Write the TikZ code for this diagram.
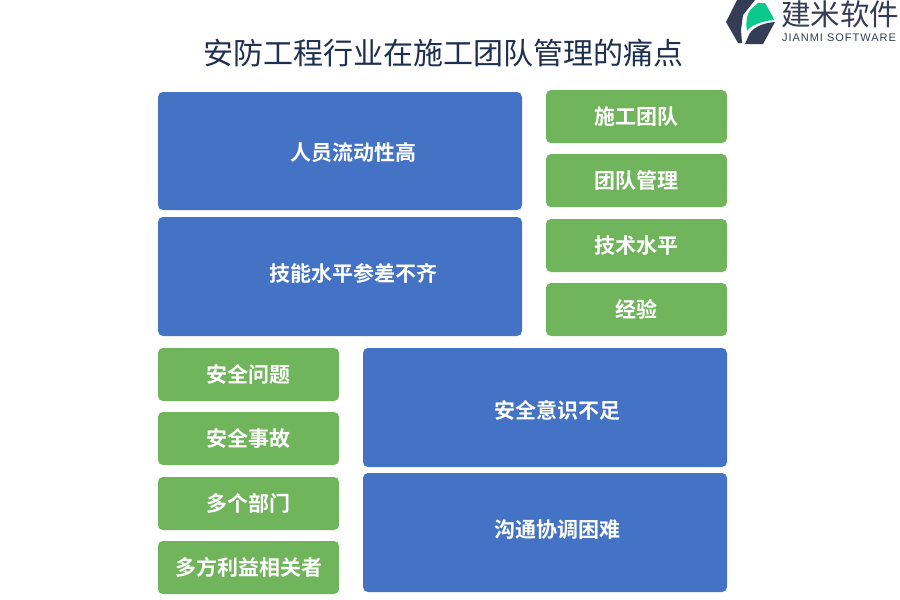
\documentclass[tikz,border=0pt]{standalone}
\usepackage{fontspec}
\setmainfont{Liberation Sans}
\newfontfamily\cjk{Noto Sans CJK SC}
\newfontfamily\cjkb{Noto Sans CJK SC}[BoldFont={Noto Sans CJK SC Bold}]
\definecolor{bluebox}{HTML}{4472C4}
\definecolor{greenbox}{HTML}{70B55C}
\definecolor{navy}{HTML}{1F2F4F}
\definecolor{logodark}{HTML}{343C56}
\definecolor{logogreen}{HTML}{0BC98A}
\tikzset{
  x=1pt,y=-1pt,
  boxbase/.style={draw=none,rounded corners=5pt,text=white,inner sep=0pt,font=\cjkb\bfseries\fontsize{21}{24}\selectfont},
  labeltext/.style={text=white,inner sep=0pt,font=\cjkb\bfseries\fontsize{21}{24}\selectfont},
  bluecard/.style={boxbase,fill=bluebox,minimum width=364pt,minimum height=119pt},
  greencard/.style={boxbase,fill=greenbox,minimum width=181pt,minimum height=53pt},
}
\begin{document}
\begin{tikzpicture}
\useasboundingbox (0,0) rectangle (900,600);
\fill[white] (0,0) rectangle (900,600);
\node[font=\cjk\fontsize{30}{34}\selectfont,text=navy,inner sep=0pt] (title) at (443.5,53) {安防工程行业在施工团队管理的痛点};
% blue
\node[bluecard,minimum height=118pt] (a) at (340,151) {};
\node[bluecard] (b) at (340,276.5) {};
\node[bluecard] (c) at (545,407.5) {};
\node[bluecard] (d) at (545,532.5) {};
\node[labeltext] (at) at (353,153) {人员流动性高};
\node[labeltext] (bt) at (353,273) {技能水平参差不齐};
\node[labeltext] (ct) at (557.5,410) {安全意识不足};
\node[labeltext] (dt) at (557,530) {沟通协调困难};
% green
\node[greencard] (g1) at (636.5,116.5) {施工团队};
\node[greencard] (g2) at (636.5,180.5) {团队管理};
\node[greencard] (g3) at (636.5,245.5) {技术水平};
\node[greencard] (g4) at (636.5,309.5) {经验};
\node[greencard] (g5) at (248.5,374.5) {安全问题};
\node[greencard] (g6) at (248.5,438.5) {安全事故};
\node[greencard] (g7) at (248.5,503.5) {多个部门};
\node[greencard] (g8) at (248.5,567.5) {多方利益相关者};
% logo
\fill[logodark] (726,22) -- (737,0) -- (755,0) -- (743,15) -- (741,30) -- (742,43) -- (738,43) -- cycle;
\fill[logodark] (745,44) -- (763,44) -- (775,22) .. controls (762,23) and (751,28) .. (748,37) -- cycle;
\fill[logogreen] (747,31) .. controls (745,20) and (748,12) .. (751,9) -- (758,3) -- (765,3) -- (773,17) -- (774,20) .. controls (762,21) and (751,25) .. (747,31) -- cycle;
\node[font=\cjk\fontsize{29.5}{32}\selectfont,text=logodark,inner sep=0pt] (logocn) at (840,14) {建米软件};
\node[font=\fontsize{11}{13}\selectfont\addfontfeature{LetterSpace=9},text=logodark,inner sep=0pt] (logoen) at (839,38) {JIANMI SOFTWARE};
\end{tikzpicture}
\end{document}
